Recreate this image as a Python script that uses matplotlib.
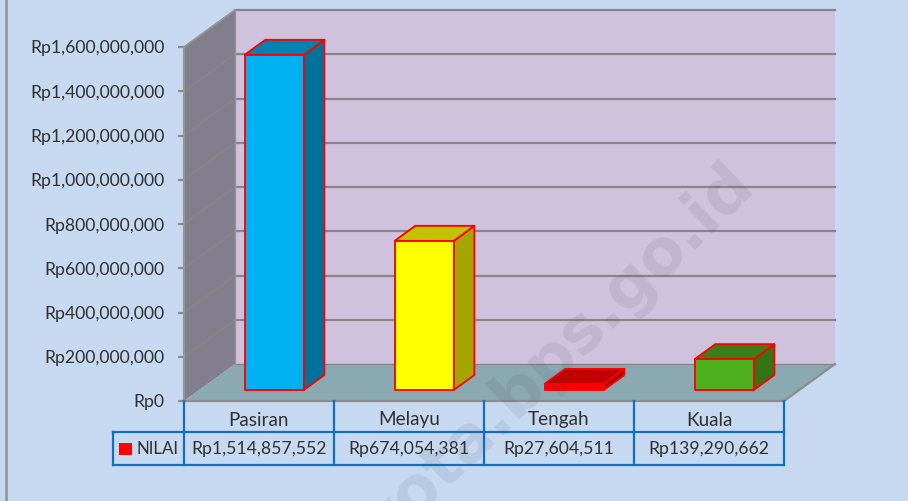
import matplotlib
matplotlib.use("Agg")
import matplotlib.pyplot as plt
from matplotlib.patches import Polygon

categories = ["Pasiran", "Melayu", "Tengah", "Kuala"]
values = [1514857552, 674054381, 27604511, 139290662]
value_labels = ["Rp1,514,857,552", "Rp674,054,381", "Rp27,604,511", "Rp139,290,662"]
y_ticks = [0, 200000000, 400000000, 600000000, 800000000, 1000000000, 1200000000, 1400000000, 1600000000]
front_colors = ["#00B0F0", "#FFFF00", "#FF0000", "#4EAF1E"]
top_colors = ["#0082B2", "#C2C200", "#C00000", "#3C7F16"]
side_colors = ["#00719B", "#A5A500", "#A00000", "#357314"]
series_name = "NILAI"

W, H = 908, 501
BG, WALL, SIDE, FLOOR = "#C6D9F1", "#CFC2DC", "#837E8E", "#8BA9B0"
GRID, TABLE, TEXT = "#868686", "#1070BE", "#303030"
FONT = "Lato"
FS = 12.7
X0, X1, Y0, Y1 = 184, 784, 401, 47
YMAX = y_ticks[-1]
DX = 51 / 150          # depth offset in category units
DV = 37 / 354 * YMAX   # depth offset in value units

fig = plt.figure(figsize=(W / 100, H / 100), dpi=100, facecolor=BG)
ax = fig.add_axes([X0 / W, 1 - Y0 / H, (X1 - X0) / W, (Y0 - Y1) / H], facecolor="none")
ax.set_xlim(0, len(categories))
ax.set_ylim(0, YMAX)
for s in ax.spines.values():
    s.set_visible(False)


def proj(x, v, d):
    return (x + d * DX, v + d * DV)


def py(p):
    return (Y0 - p) / (Y0 - Y1) * YMAX


def poly(pts, fc, ec="none", lw=0.0, z=1):
    ax.add_patch(Polygon(pts, closed=True, facecolor=fc, edgecolor=ec, linewidth=lw,
                         zorder=z, clip_on=False, joinstyle="round"))


n = len(categories)
# walls and floor
poly([proj(0, 0, 1), proj(n, 0, 1), proj(n, YMAX, 1), proj(0, YMAX, 1)], WALL, z=1)
poly([proj(0, 0, 0), proj(0, 0, 1), proj(0, YMAX, 1), proj(0, YMAX, 0)], SIDE, z=1)
poly([proj(0, 0, 0), proj(n, 0, 0), proj(n, 0, 1), proj(0, 0, 1)], FLOOR, z=1)

for t in y_ticks:
    pts = [proj(0, t, 0), proj(0, t, 1), proj(n, t, 1)]
    if t == 0:
        ax.plot(*zip(pts[1], pts[2]), color=GRID, lw=1.0, zorder=2, clip_on=False)
    else:
        ax.plot(*zip(pts[0], pts[1]), color="#8A8680", lw=0.8, zorder=2, clip_on=False)
        ax.plot(*zip(pts[1], pts[2]), color=GRID, lw=1.6, zorder=2, clip_on=False)
ax.plot(*zip(proj(0, 0, 0), proj(0, YMAX, 0)), color="#969696", lw=1.6, zorder=2, clip_on=False)
ax.plot(*zip(proj(0, YMAX, 0), proj(0, YMAX, 1)), color="#969696", lw=1.2, zorder=2, clip_on=False)
ax.plot(*zip(proj(0, 0, 1), proj(0, YMAX, 1)), color="#969696", lw=1.0, zorder=2, clip_on=False)
ax.plot(*zip(proj(0, 0, 0), proj(n, 0, 0), proj(n, 0, 1)), color="#8C8C8C", lw=1.6, zorder=2, clip_on=False)

# bars
half, d0, d1 = 0.197, 0.297, 0.703
for i, v in enumerate(values):
    c = i + 0.5
    l, r = c - half, c + half
    z = 3 + i
    kw = dict(ec="#FF0000", lw=1.35, z=z)
    poly([proj(r, 0, d0), proj(r, 0, d1), proj(r, v, d1), proj(r, v, d0)], side_colors[i], **kw)
    poly([proj(l, v, d0), proj(r, v, d0), proj(r, v, d1), proj(l, v, d1)], top_colors[i], **kw)
    poly([proj(l, 0, d0), proj(r, 0, d0), proj(r, v, d0), proj(l, v, d0)], front_colors[i], **kw)

# y axis
ax.set_xticks([])
ax.set_yticks(y_ticks)
ax.set_yticklabels([f"Rp{t:,}" for t in y_ticks], fontfamily=FONT, fontsize=FS, color=TEXT)
ax.tick_params(axis="y", length=4, width=1.6, color="#8C8C8C", pad=9.8)

# data table
xl = (113 - X0) / 150
ax.plot([xl, n], [py(432), py(432)], color=TABLE, lw=1.6, zorder=8, clip_on=False)
ax.plot([xl, n], [py(465), py(465)], color=TABLE, lw=1.6, zorder=8, clip_on=False)
ax.plot([xl, xl], [py(432), py(465)], color=TABLE, lw=1.6, zorder=8, clip_on=False)
for i in range(n + 1):
    ax.plot([i, i], [py(401), py(465)], color=TABLE, lw=1.6, zorder=8, clip_on=False)
for i in range(n):
    ax.text(i + 0.5, py(420), categories[i], ha="center", va="center",
            fontfamily=FONT, fontsize=13.6, color=TEXT, zorder=9)
    ax.text(i + 0.5, py(449), value_labels[i], ha="center", va="center",
            fontfamily=FONT, fontsize=FS, color=TEXT, zorder=9)
ax.add_patch(Polygon([((119 - X0) / 150, py(443)), ((132 - X0) / 150, py(443)),
                      ((132 - X0) / 150, py(455)), ((119 - X0) / 150, py(455))],
                     closed=True, facecolor="#FF0000", edgecolor="none", zorder=9, clip_on=False))
ax.text((136 - X0) / 150, py(449), series_name, ha="left", va="center",
        fontfamily=FONT, fontsize=12.2, color=TEXT, zorder=9)

# outer border and watermark
fig.add_artist(plt.Line2D([6 / W, 6 / W], [0, 1], color="#8E9296", lw=1.8))
fig.text(722 / W, 1 - 153 / H, "gkota.bps.go.id", rotation=44, rotation_mode="anchor",
         ha="right", va="top", fontsize=46, fontweight="bold", fontfamily="DejaVu Sans",
         color="#404060", alpha=0.10, zorder=20)

fig.savefig("out.png", dpi=100, facecolor=BG)
